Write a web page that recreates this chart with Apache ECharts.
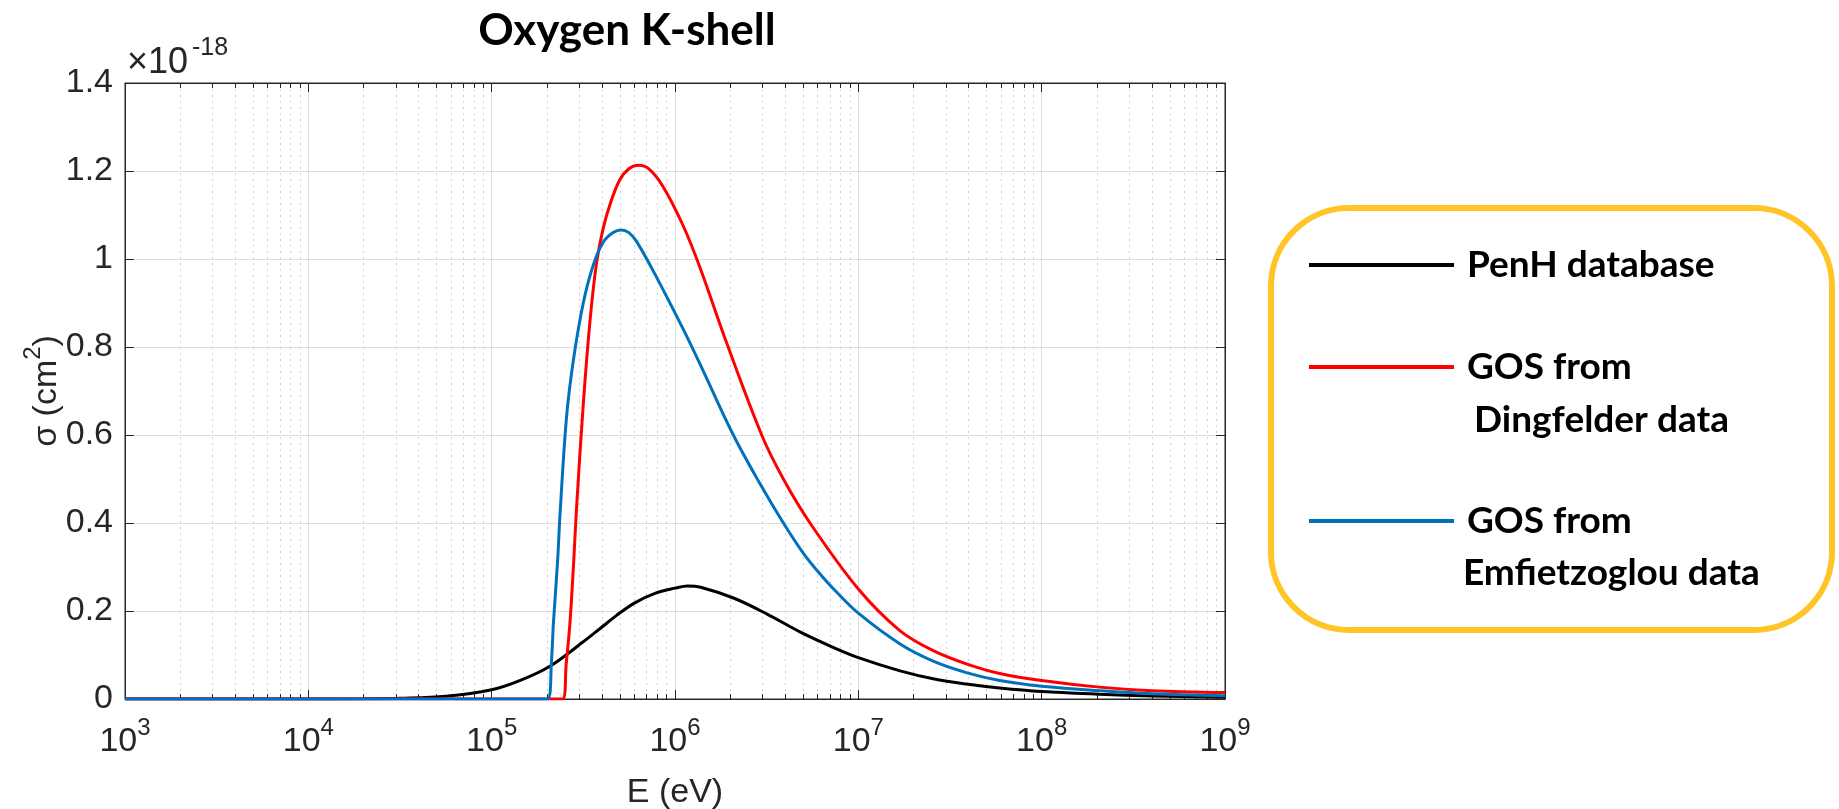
<!DOCTYPE html>
<html>
<head>
<meta charset="UTF-8">
<title>Oxygen K-shell</title>
<script src="https://cdn.jsdelivr.net/npm/echarts@6/dist/echarts.min.js"></script>
<style>
  html, body { margin: 0; padding: 0; background: #fff; }
  #chart { width: 1839px; height: 809px; }
</style>
</head>
<body>
<div id="chart"></div>
<script>
// energy (eV) and cross section (units of 1e-18 cm^2)
var penhE = [1e3, 1e4, 2e4, 3.16e4, 5.62e4, 1e5, 1.41e5, 2.09e5, 3.16e5, 3.98e5, 4.8e5, 6e5, 7.9e5, 1e6, 1.17e6, 1.38e6, 2.1e6, 3.18e6, 4.83e6, 7.33e6, 1e7, 1.69e7, 2.56e7, 3.88e7, 5.9e7, 1e8, 2.06e8, 4e8, 1e9];
var penhSigma = [0, 0, 0.0005, 0.0015, 0.006, 0.021, 0.041, 0.075, 0.13, 0.163, 0.19, 0.218, 0.241, 0.252, 0.257, 0.254, 0.229, 0.193, 0.152, 0.117, 0.094, 0.064, 0.046, 0.034, 0.025, 0.017, 0.011, 0.007, 0.004];

var dingE = [1e3, 2.44e5, 2.55e5, 2.67e5, 2.8e5, 2.9e5, 3.16e5, 3.44e5, 3.73e5, 4.06e5, 4.47e5, 5e5, 5.6e5, 6.3e5, 7.2e5, 8.6e5, 1.11e6, 1.37e6, 1.91e6, 2.97e6, 3.9e6, 5.45e6, 1e7, 1.69e7, 2.56e7, 3.88e7, 5.9e7, 1e8, 2.06e8, 4e8, 1e9];
var dingSigma = [0, 0, 0.08, 0.17, 0.31, 0.43, 0.67, 0.86, 0.99, 1.07, 1.13, 1.18, 1.205, 1.213, 1.205, 1.165, 1.075, 0.98, 0.81, 0.6, 0.5, 0.4, 0.25, 0.155, 0.11, 0.08, 0.058, 0.042, 0.027, 0.019, 0.0145];

var emfE = [1e3, 2.02e5, 2.12e5, 2.17e5, 2.29e5, 2.36e5, 2.56e5, 2.79e5, 3.16e5, 3.58e5, 4.06e5, 4.6e5, 5.1e5, 5.6e5, 6.17e5, 7.9e5, 1.11e6, 1.37e6, 2.08e6, 2.91e6, 3.9e6, 5.04e6, 6.3e6, 7.33e6, 1e7, 1.69e7, 2.56e7, 3.88e7, 5.9e7, 1e8, 2.06e8, 4e8, 1e9];
var emfSigma = [0, 0, 0.088, 0.17, 0.315, 0.42, 0.64, 0.77, 0.9, 0.986, 1.038, 1.06, 1.066, 1.06, 1.04, 0.96, 0.84, 0.761, 0.6, 0.489, 0.4, 0.33, 0.28, 0.25, 0.195, 0.125, 0.086, 0.06, 0.042, 0.029, 0.019, 0.012, 0.0076];

var xDecades = [3, 4, 5, 6, 7, 8, 9];
var yTicks = [0, 0.2, 0.4, 0.6, 0.8, 1, 1.2, 1.4];

var legendLines = [['PenH database'], ['GOS from', ' Dingfelder data'], ['GOS from', 'Emfietzoglou data']];
var lineColors = ['#000000', '#ff0000', '#0072bd'];

function pairs(xs, ys) {
  var out = [];
  for (var i = 0; i < xs.length; i++) out.push([xs[i], ys[i]]);
  return out;
}

// minor ticks 2..9 in each decade
var minorTicks = [];
for (var d = 0; d < xDecades.length - 1; d++) {
  for (var m = 2; m < 10; m++) minorTicks.push(m * Math.pow(10, xDecades[d]));
}

var axisColor = '#262626';
var tickFont = 'Liberation Sans';
var xMin = Math.pow(10, xDecades[0]);
var xMax = Math.pow(10, xDecades[xDecades.length - 1]);

// base text + raised superscript
function supRich(key) {
  var r = {};
  r[key] = { fontFamily: tickFont, fontSize: 34, color: axisColor, lineHeight: 36, verticalAlign: 'bottom' };
  r.s = { fontFamily: tickFont, fontSize: 24, color: axisColor, verticalAlign: 'bottom', padding: [0, 0, 19, 0] };
  return r;
}

var chart = echarts.init(document.getElementById('chart'));

function logAxis(pos, opts) {
  var a = {
    type: 'log', logBase: 10, min: xMin, max: xMax, splitNumber: 6,
    position: pos,
    axisLine: { show: false },
    axisTick: { show: false },
    axisLabel: { show: false },
    splitLine: { show: false }
  };
  for (var k in opts) a[k] = opts[k];
  return a;
}

var option = {
  animation: false,
  backgroundColor: '#ffffff',
  grid: {
    left: 125, right: 614, top: 83, bottom: 110,
    outerBoundsMode: 'none', containLabel: false,
    show: true, borderColor: axisColor, borderWidth: 1, backgroundColor: '#ffffff'
  },
  xAxis: [
    logAxis('bottom', {
      axisLine: { show: true, lineStyle: { color: axisColor, width: 1 } },
      axisTick: { show: true, inside: true, length: 9, lineStyle: { color: axisColor } },
      axisLabel: {
        show: true, margin: 17, color: axisColor,
        formatter: function (v) {
          var e = Math.round(Math.log(v) / Math.LN10);
          return '{b|10}{s|' + e + '}';
        },
        rich: supRich('b')
      },
      splitLine: { show: true, lineStyle: { color: '#dedede', width: 1 } },
      name: 'E (eV)', nameLocation: 'middle', nameGap: 77, nameMoveOverlap: false,
      nameTextStyle: { fontFamily: tickFont, fontSize: 34, color: axisColor }
    }),
    logAxis('bottom', {
      axisTick: { show: true, inside: true, length: 5, customValues: minorTicks, lineStyle: { color: axisColor } },
      splitLine: { show: true, lineStyle: { color: '#cfcfcf', width: 1, type: [2, 4] } }
    }),
    logAxis('top', {
      axisLine: { show: true, lineStyle: { color: axisColor, width: 1 } },
      axisTick: { show: true, inside: true, length: 9, lineStyle: { color: axisColor } }
    }),
    logAxis('top', {
      axisTick: { show: true, inside: true, length: 5, customValues: minorTicks, lineStyle: { color: axisColor } }
    })
  ],
  yAxis: [
    {
      type: 'value', min: yTicks[0], max: yTicks[yTicks.length - 1], interval: 0.2,
      position: 'left',
      axisLine: { show: true, lineStyle: { color: axisColor, width: 1 } },
      axisTick: { show: true, inside: true, length: 9, lineStyle: { color: axisColor } },
      axisLabel: { margin: 12, color: axisColor, fontFamily: tickFont, fontSize: 34 },
      splitLine: { show: true, lineStyle: { color: '#dedede', width: 1 } },
      name: '{n|σ (cm}{s|2}{n|)}', nameLocation: 'middle', nameGap: 61, nameRotate: 90, nameMoveOverlap: false,
      nameTextStyle: { color: axisColor, fontFamily: tickFont, fontSize: 34, rich: supRich('n') }
    },
    {
      type: 'value', min: yTicks[0], max: yTicks[yTicks.length - 1], interval: 0.2,
      position: 'right',
      axisLine: { show: true, lineStyle: { color: axisColor, width: 1 } },
      axisTick: { show: true, inside: true, length: 9, lineStyle: { color: axisColor } },
      axisLabel: { show: false },
      splitLine: { show: false }
    }
  ],
  series: [
    { name: legendLines[0].join(' '), data: pairs(penhE, penhSigma) },
    { name: legendLines[1].join(' '), data: pairs(dingE, dingSigma) },
    { name: legendLines[2].join(' '), data: pairs(emfE, emfSigma) }
  ].map(function (s, i) {
    return {
      name: s.name, type: 'line', xAxisIndex: 0, yAxisIndex: 0,
      data: s.data, showSymbol: false, smooth: 0.35, z: 3 + i,
      lineStyle: { color: lineColors[i], width: 3 },
      itemStyle: { color: lineColors[i] }
    };
  }),
  graphic: [
    {
      type: 'text', x: 627, y: 31, z: 10,
      style: { text: 'Oxygen K-shell', font: 'bold 44px Lato', fill: '#000', textAlign: 'center', textVerticalAlign: 'middle' }
    },
    // exponent factor above the y axis
    {
      type: 'text', x: 127, y: 81, z: 10,
      style: { text: '×10', font: '36px "Liberation Sans"', fill: axisColor, textVerticalAlign: 'bottom' }
    },
    {
      type: 'text', x: 192, y: 61, z: 10,
      style: { text: '-18', font: '25px "Liberation Sans"', fill: axisColor, textVerticalAlign: 'bottom' }
    },
    {
      type: 'rect', z: 10,
      shape: { x: 1271, y: 208, width: 561, height: 422, r: 78 },
      style: { fill: '#ffffff', stroke: '#ffc526', lineWidth: 6 }
    },
    { type: 'line', z: 11, shape: { x1: 1309, y1: 265, x2: 1454, y2: 265 }, style: { stroke: lineColors[0], lineWidth: 4 } },
    { type: 'line', z: 11, shape: { x1: 1309, y1: 367, x2: 1454, y2: 367 }, style: { stroke: lineColors[1], lineWidth: 4 } },
    { type: 'line', z: 11, shape: { x1: 1309, y1: 521, x2: 1454, y2: 521 }, style: { stroke: lineColors[2], lineWidth: 4 } },
    { type: 'text', z: 11, x: 1467, y: 265, style: { text: legendLines[0][0], font: 'bold 37px Lato', fill: '#000', textVerticalAlign: 'middle' } },
    { type: 'text', z: 11, x: 1467, y: 367, style: { text: legendLines[1][0], font: 'bold 37px Lato', fill: '#000', textVerticalAlign: 'middle' } },
    { type: 'text', z: 11, x: 1465, y: 420, style: { text: legendLines[1][1], font: 'bold 37px Lato', fill: '#000', textVerticalAlign: 'middle' } },
    { type: 'text', z: 11, x: 1467, y: 521, style: { text: legendLines[2][0], font: 'bold 37px Lato', fill: '#000', textVerticalAlign: 'middle' } },
    { type: 'text', z: 11, x: 1463, y: 573, style: { text: legendLines[2][1], font: 'bold 37px Lato', fill: '#000', textVerticalAlign: 'middle' } }
  ]
};

chart.setOption(option);
</script>
</body>
</html>
